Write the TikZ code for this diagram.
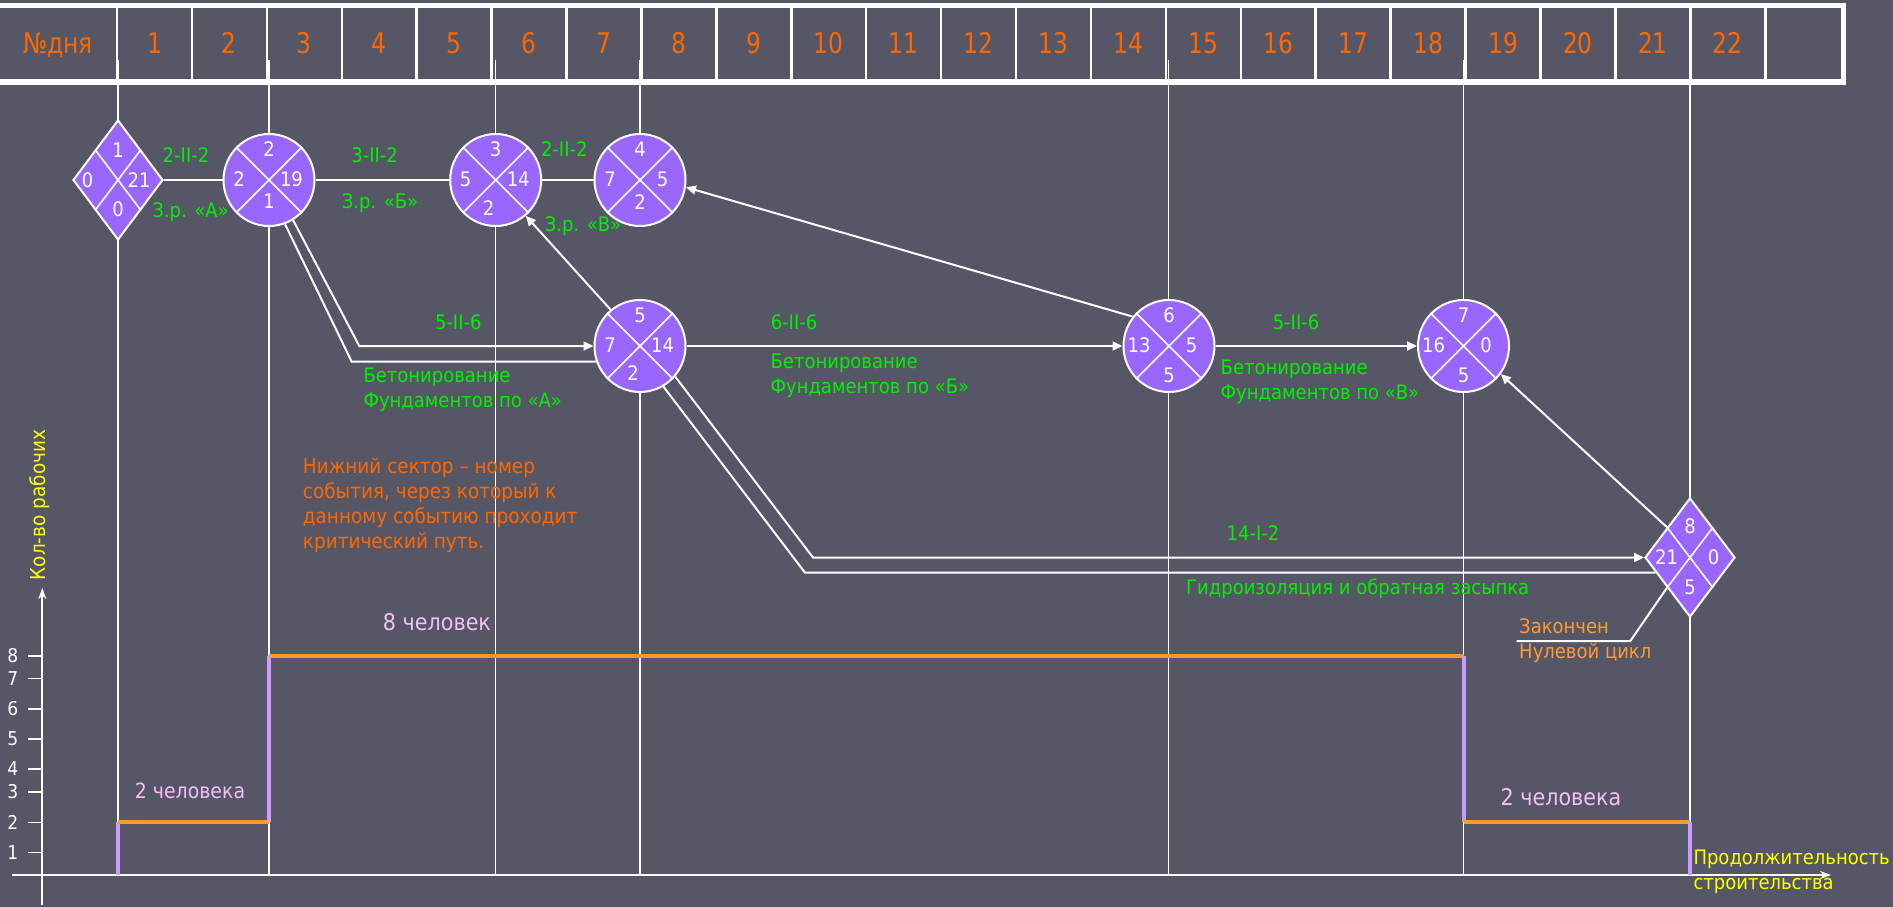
\documentclass[tikz,border=0pt]{standalone}
\usepackage{fontspec}
\setmainfont{DejaVu Sans}[FakeStretch=0.9]
\newfontfamily\hdrfont{DejaVu Sans}[FakeStretch=0.82]
\usetikzlibrary{shapes.geometric,arrows.meta,calc}
\definecolor{bg}{RGB}{85,87,102}
\definecolor{evfill}{RGB}{153,102,255}
\definecolor{grn}{RGB}{0,240,0}
\definecolor{hdrorange}{RGB}{255,102,0}
\definecolor{lightorange}{RGB}{255,153,51}
\definecolor{steppurple}{RGB}{204,153,255}
\definecolor{pinktxt}{RGB}{245,190,245}
\definecolor{yel}{RGB}{255,255,0}

\newcommand\EvC[9]{%
  \node[ev] (#1) at (#2,#3) {};
  \draw[divline] (#1.45) -- (#1.225) (#1.135) -- (#1.315);
  \node[num] (#1t) at ($(#1)+(0,-31)$) {#4};
  \node[num] (#1l) at ($(#1)+(-30,-1)$) {#5};
  \node[num] (#1r) at ($(#1)+(22.5,-1)$) {#6};
  \node[num] (#1b) at ($(#1)+(#8,#9)$) {#7};
}

\begin{document}
\begin{tikzpicture}[x=1pt,y=-1pt,
  ev/.style={ellipse, draw=white, line width=2pt, fill=evfill, minimum width=91pt, minimum height=92pt, inner sep=0pt},
  evd/.style={diamond, draw=white, line width=2pt, fill=evfill, minimum width=90pt, minimum height=120pt, inner sep=0pt},
  divline/.style={white, line width=1.6pt},
  num/.style={text=white, font=\fontsize{20}{24}\selectfont, inner sep=0pt, text height=14.6pt, text depth=0pt},
  lbl/.style={text=grn, font=\fontsize{20}{25}\selectfont, inner sep=0pt, text height=14.6pt, text depth=0pt},
  lbltwo/.style={text=grn, font=\fontsize{20}{25}\selectfont, inner sep=0pt, align=left, anchor=west},
  hdr/.style={text=hdrorange, font=\hdrfont\fontsize{28.5}{30}\selectfont, inner sep=0pt, text height=20.7pt, text depth=0pt},
  conn/.style={white, line width=2pt},
  arr/.style={conn, -{Triangle[length=10pt,width=9pt]}},
  axarr/.style={conn, -{Stealth[length=11pt,width=8pt]}},
  evline/.style={white, line width=1.8pt},
  oline/.style={draw=lightorange, line width=4pt},
  pline/.style={draw=steppurple, line width=4pt},
  tick/.style={text=white, font=\fontsize{19}{22}\selectfont, inner sep=0pt, text height=13.9pt, text depth=0pt},
  pinklbl/.style={text=pinktxt, inner sep=0pt, text height=16pt, text depth=0pt},
]
\useasboundingbox (0,0) rectangle (1893,907);
\fill[bg] (0,0) rectangle (1893,907);

% header table
\fill[white] (0,3) rectangle (1846,85);
\fill[bg] (0,8.5) rectangle (1840.5,79.5);
\foreach \i in {0,...,22}{\draw[white, line width=2.5pt] ({117+74.92*\i},8.5) -- ({117+74.92*\i},79.5);}
\node[hdr] (hd0) at (58,43.5) {№дня};
\foreach \d in {1,...,22}{\node[hdr] (hd\d) at ({117+74.92*(\d-0.5)},43.5) {\d};}

% event time lines
\foreach \x in {117.7,269,495.5,1168.5,1463.5,1690}{\draw[evline] (\x,60) -- (\x,875);}
\draw[evline] (640,60) -- (640,140);
\draw[evline] (640,380) -- (640,875);

% axes
\coordinate (ybot) at (42.3,905);
\coordinate (ytop) at (42.3,588);
\draw[axarr] (ybot) -- (ytop);
\coordinate (xl) at (11.7,875);
\coordinate (xr) at (1831,875);
\draw[axarr] (xl) -- (xr);
\foreach \v/\yy in {1/852.3,2/822.3,3/791.7,4/769,5/739,6/709,7/678.3,8/656}{%
  \draw[white, line width=1.6pt] (27.7,\yy) -- (41.7,\yy);
  \node[tick] (tk\v) at (12.7,\yy) {\v};
}
\node[text=yel, font=\fontsize{20.5}{24}\selectfont, rotate=90, inner sep=0pt] (ylab) at (40,505) {Кол-во рабочих};
\node[text=yel, font=\fontsize{20}{25}\selectfont, inner sep=0pt, align=left, anchor=west] (xlab) at (1693.3,872) {Продолжительность\\строительства};

% workers step graph
\draw[pline] (117.7,875) -- (117.7,822.3);
\draw[oline] (117.7,822.3) -- (269,822.3);
\draw[pline] (269,822.3) -- (269,656);
\draw[oline] (269,656) -- (1463.5,656);
\draw[pline] (1463.5,656) -- (1463.5,822.3);
\draw[oline] (1463.5,822.3) -- (1690,822.3);
\draw[pline] (1690,822.3) -- (1690,875);
\node[pinklbl, font=\fontsize{23}{26}\selectfont] (w8) at (437,622) {8 человек};
\node[pinklbl, font=\fontsize{21}{24}\selectfont, text height=15.3pt] (w2a) at (190,790.7) {2 человека};
\node[pinklbl, font=\fontsize{23}{26}\selectfont, text height=16.8pt] (w2b) at (1561,796.7) {2 человека};

% events
\node[evd] (n1) at (118,180) {};
\draw[divline] ($(n1.north)!0.5!(n1.west)$) -- ($(n1.south)!0.5!(n1.east)$) ($(n1.north)!0.5!(n1.east)$) -- ($(n1.south)!0.5!(n1.west)$);
\node[num] (n1t) at (118,150) {1};
\node[num] (n1l) at (87.6,180) {0};
\node[num] (n1r) at (139.2,180) {21};
\node[num] (n1b) at (118,209) {0};

\EvC{n2}{269}{180}{2}{2}{19}{1}{0}{21}
\EvC{n3}{495.7}{180}{3}{5}{14}{2}{-7}{28}
\EvC{n4}{640}{180}{4}{7}{5}{2}{0}{21.7}
\EvC{n5}{640}{346}{5}{7}{14}{2}{-7}{27}
\EvC{n6}{1169}{346}{6}{13}{5}{5}{0}{29}
\EvC{n7}{1463.5}{346}{7}{16}{0}{5}{0}{29}

\node[evd, minimum height=119pt] (n8) at (1690,557.5) {};
\draw[divline] ($(n8.north)!0.5!(n8.west)$) -- ($(n8.south)!0.5!(n8.east)$) ($(n8.north)!0.5!(n8.east)$) -- ($(n8.south)!0.5!(n8.west)$);
\node[num] (n8t) at (1690,526) {8};
\node[num] (n8l) at (1666.6,557.5) {21};
\node[num] (n8r) at (1713.7,557.5) {0};
\node[num] (n8b) at (1690,586.7) {5};

% connectors
\draw[conn] (n1.east) -- (n2.west);
\draw[conn] (n2.east) -- (n3.west);
\draw[conn] (n3.east) -- (n4.west);
\draw[arr] (n5.129) -- (n3.-50);
\draw[arr] (n6.141) -- (n4.-9);
\draw[arr] (n5.east) -- (n6.west);
\draw[arr] (n6.east) -- (n7.west);
\coordinate (n8ul) at ($(n8.north)!0.5!(n8.west)$);
\draw[arr] (n8ul) -- (n7.-37);
\coordinate (a25) at (359.3,346);
\coordinate (b25) at (351.7,361.7);
\draw[arr] (n2.-59) -- (a25) -- (n5.west);
\draw[conn] (n2.-70) -- (b25) -- (b25 -| n5.200);
\coordinate (a58) at (813,557.5);
\coordinate (b58) at (805,572.7);
\draw[arr] (n5.-41) -- (a58) -- (n8.west);
\draw[conn] (n5.-60) -- (b58) -- (b58 -| n8.204);
\coordinate (z1) at (1516.6,641);
\coordinate (z2) at (1630.3,641);
\coordinate (n8ll) at ($(n8.south)!0.5!(n8.west)$);
\draw[conn] (z1) -- (z2) -- (n8ll);

% activity labels
\node[lbl] (l12a) at (186,155) {2-II-2};
\node[lbl] (l12b) at (190.5,210) {З.р. «А»};
\node[lbl] (l23a) at (374.6,155) {3-II-2};
\node[lbl] (l23b) at (380,201) {З.р. «Б»};
\node[lbl] (l34a) at (564.3,149) {2-II-2};
\node[lbl] (l34b) at (583,224) {З.р. «В»};
\node[lbl] (l25a) at (458.3,321.7) {5-II-6};
\node[lbltwo] (l25b) at (363.3,389.9) {Бетонирование\\Фундаментов по «А»};
\node[lbl] (l56a) at (794,321.7) {6-II-6};
\node[lbltwo] (l56b) at (770.4,375.8) {Бетонирование\\Фундаментов по «Б»};
\node[lbl] (l67a) at (1296,321.7) {5-II-6};
\node[lbltwo] (l67b) at (1220.5,381.8) {Бетонирование\\Фундаментов по «В»};
\node[lbl] (l58a) at (1253,533) {14-I-2};
\node[lbl, anchor=west] (l58b) at (1186,587.3) {Гидроизоляция и обратная засыпка};
\node[lbltwo, text=lightorange] (done) at (1519,640.3) {Закончен\\Нулевой цикл};
\node[lbltwo, text=hdrorange, font=\fontsize{20.5}{25}\selectfont] (legend) at (302.7,505.6) {Нижний сектор – номер\\события, через который к\\данному событию проходит\\критический путь.};
\end{tikzpicture}
\end{document}
